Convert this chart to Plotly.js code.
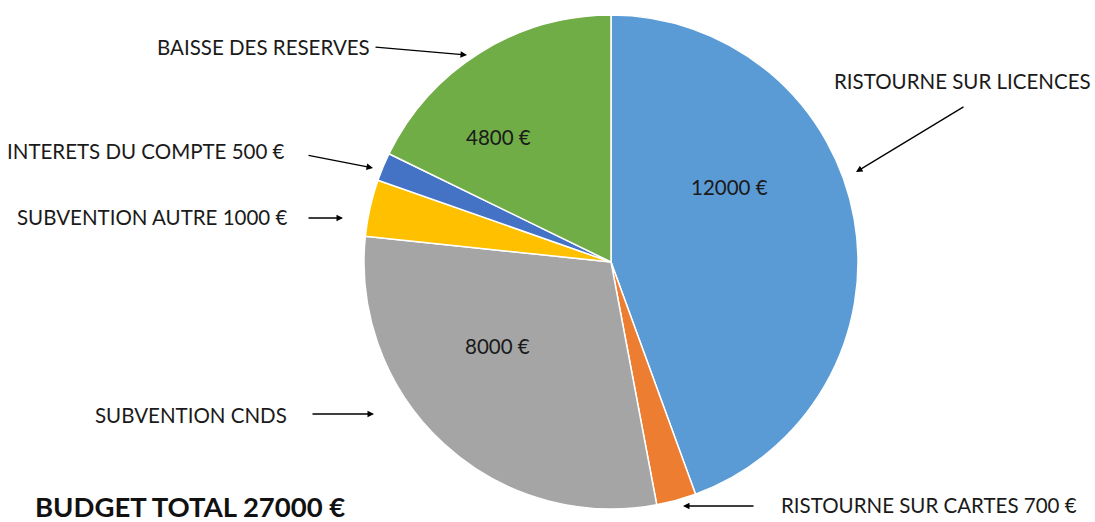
<!DOCTYPE html>
<html>
<head>
<meta charset="utf-8">
<script src="https://cdn.plot.ly/plotly-3.0.1.min.js"></script>
<style>html,body{margin:0;padding:0;background:#fff;}#chart{width:1095px;height:522px;}</style>
</head>
<body>
<div id="chart"></div>
<script>
// Data
const categories = ["RISTOURNE SUR LICENCES", "RISTOURNE SUR CARTES", "SUBVENTION CNDS", "SUBVENTION AUTRE", "INTERETS DU COMPTE", "BAISSE DES RESERVES"];
const values = [12000, 700, 8000, 1000, 500, 4800];
const colors = ["#5B9BD5", "#ED7D31", "#A5A5A5", "#FFC000", "#4472C4", "#70AD47"];
const outerLabels = ["RISTOURNE SUR LICENCES", "RISTOURNE SUR CARTES 700 €", "SUBVENTION CNDS", "SUBVENTION AUTRE 1000 €", "INTERETS DU COMPTE 500 €", "BAISSE DES RESERVES"];
const innerLabels = ["12000 €", "", "8000 €", "", "", "4800 €"];
const totalLabel = "BUDGET TOTAL 27000 €";

const W = 1095, H = 522;
const px = x => x / W;
const py = y => 1 - y / H;
const FONT = "Lato, 'Open Sans', sans-serif";

// label placements (pixel): [x, y, xanchor]
const labelPos = [
  [962, 81, "center"],
  [779, 505, "left"],
  [289, 415, "right"],
  [289, 217, "right"],
  [287, 151, "right"],
  [372, 47, "right"]
];
// arrows: head (x,y), tail (x,y)
const arrowPos = [
  [856, 172, 965, 106],
  [683, 506, 755, 506],
  [374, 414, 311, 414],
  [343, 218, 307, 218],
  [373, 168, 307, 155],
  [467, 55, 374, 47]
];
const innerPos = [
  [729, 187], null, [497, 346], null, null, [498, 137]
];

const annotations = [];
categories.forEach((c, i) => {
  const lp = labelPos[i];
  annotations.push({
    xref: "paper", yref: "paper", x: px(lp[0]), y: py(lp[1]),
    xanchor: lp[2], yanchor: "middle", showarrow: false,
    text: outerLabels[i], font: {family: FONT, size: 20.5, color: "#1a1a1a"}
  });
  const ap = arrowPos[i];
  annotations.push({
    xref: "paper", yref: "paper", x: px(ap[0]), y: py(ap[1]),
    ax: ap[2] - ap[0], ay: ap[3] - ap[1], axref: "pixel", ayref: "pixel",
    text: "", showarrow: true, arrowhead: 2, arrowsize: 1, arrowwidth: 1.3,
    arrowcolor: "#000"
  });
  if (innerLabels[i]) {
    const ip = innerPos[i];
    annotations.push({
      xref: "paper", yref: "paper", x: px(ip[0]), y: py(ip[1]),
      xanchor: "center", yanchor: "middle", showarrow: false,
      text: innerLabels[i], font: {family: FONT, size: 20.5, color: "#1a1a1a"}
    });
  }
});
annotations.push({
  xref: "paper", yref: "paper", x: px(34), y: py(506),
  xanchor: "left", yanchor: "middle", showarrow: false, borderpad: 0,
  text: "<b>" + totalLabel + "</b>", font: {family: FONT, size: 27.5, color: "#111"}
});

const trace = {
  type: "pie",
  labels: categories,
  values: values,
  sort: false,
  direction: "clockwise",
  rotation: 0,
  textinfo: "none",
  hoverinfo: "label+value",
  marker: {colors: colors, line: {color: "#ffffff", width: 1.5}},
  domain: {x: [px(363), px(859)], y: [py(509), py(15)]}
};

const layout = {
  width: W, height: H,
  margin: {l: 0, r: 0, t: 0, b: 0},
  paper_bgcolor: "#fff",
  showlegend: false,
  annotations: annotations
};

Plotly.newPlot("chart", [trace], layout, {displayModeBar: false, staticPlot: true});
</script>
</body>
</html>
